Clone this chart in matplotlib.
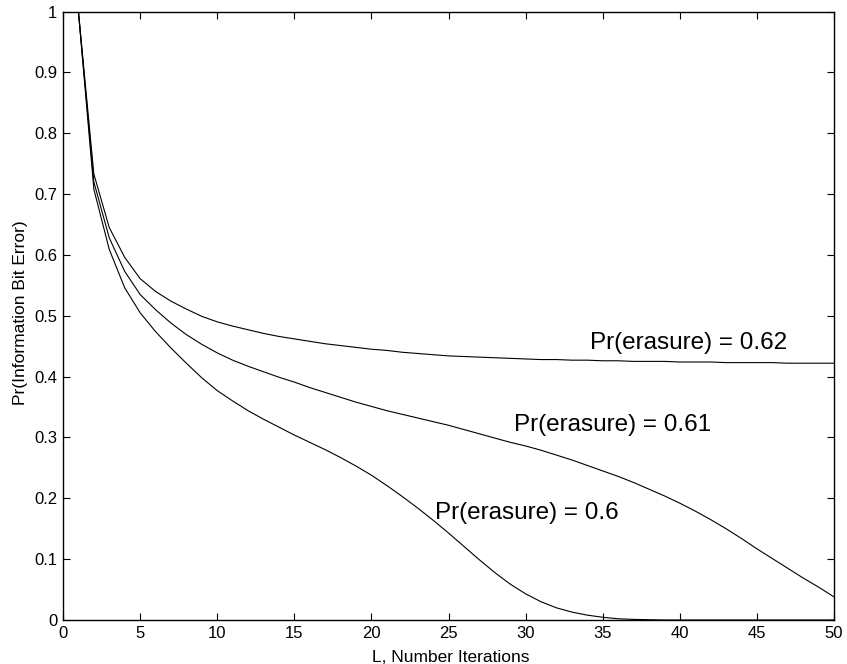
import matplotlib
matplotlib.use("Agg")
import matplotlib.pyplot as plt

plt.rcParams['font.family'] = ['Liberation Sans', 'DejaVu Sans']

L = list(range(1, 51))

p062 = [1.0, 0.733, 0.645, 0.596, 0.561, 0.540, 0.524, 0.511, 0.499, 0.490,
        0.483, 0.477, 0.471, 0.466, 0.462, 0.458, 0.454, 0.451, 0.448, 0.445,
        0.443, 0.440, 0.438, 0.436, 0.434, 0.433, 0.432, 0.431, 0.430, 0.429,
        0.428, 0.428, 0.427, 0.427, 0.426, 0.426, 0.425, 0.425, 0.425, 0.424,
        0.424, 0.424, 0.423, 0.423, 0.423, 0.423, 0.422, 0.422, 0.422, 0.422]

p061 = [1.0, 0.720, 0.628, 0.573, 0.535, 0.510, 0.488, 0.469, 0.453, 0.439,
        0.427, 0.417, 0.408, 0.399, 0.391, 0.382, 0.374, 0.366, 0.358, 0.351,
        0.344, 0.338, 0.332, 0.326, 0.320, 0.313, 0.306, 0.299, 0.292, 0.286,
        0.279, 0.271, 0.263, 0.254, 0.245, 0.236, 0.226, 0.215, 0.204, 0.192,
        0.179, 0.165, 0.150, 0.134, 0.117, 0.101, 0.085, 0.069, 0.054, 0.038]

p060 = [1.0, 0.708, 0.609, 0.546, 0.505, 0.474, 0.447, 0.422, 0.398, 0.377,
        0.360, 0.344, 0.330, 0.317, 0.304, 0.292, 0.280, 0.267, 0.253, 0.238,
        0.221, 0.203, 0.184, 0.164, 0.143, 0.121, 0.099, 0.078, 0.059, 0.043,
        0.030, 0.020, 0.013, 0.008, 0.0045, 0.002, 0.001, 0.0005, 0.0, 0.0,
        0.0, 0.0, 0.0, 0.0, 0.0, 0.0, 0.0, 0.0, 0.0, 0.0]

labels = ["Pr(erasure) = 0.62", "Pr(erasure) = 0.61", "Pr(erasure) = 0.6"]
label_pos = [(34.2, 0.445), (29.25, 0.311), (24.15, 0.1665)]

xticks = list(range(0, 51, 5))
yticks = [0, 0.1, 0.2, 0.3, 0.4, 0.5, 0.6, 0.7, 0.8, 0.9, 1]
yticklabels = ["0", "0.1", "0.2", "0.3", "0.4", "0.5", "0.6", "0.7", "0.8", "0.9", "1"]

fig = plt.figure(figsize=(8.47, 6.64), dpi=100)
ax = fig.add_axes([63/847, 44/664, (834-63)/847, (620-11.5)/664])

for s in (p062, p061, p060):
    ax.plot(L, s, color='black', linewidth=0.8)

for t, (x, y) in zip(labels, label_pos):
    ax.text(x, y, t, fontsize=17.5, ha='left', va='baseline')

ax.set_xlim(0, 50)
ax.set_ylim(0, 1)
ax.set_xticks(xticks)
ax.set_yticks(yticks)
ax.set_yticklabels(yticklabels)
ax.tick_params(direction='in', top=True, right=True, length=5, width=0.8,
               labelsize=12, pad=4)
for sp in ax.spines.values():
    sp.set_linewidth(1.0)
ax.set_xlabel("L, Number Iterations", fontsize=12.5)
ax.set_ylabel("Pr(Information Bit Error)", fontsize=12.5)
ax.xaxis.set_label_coords(0.503, -0.049)
ax.yaxis.set_label_coords(-0.046, 0.505)

fig.savefig("out.png", dpi=100)
